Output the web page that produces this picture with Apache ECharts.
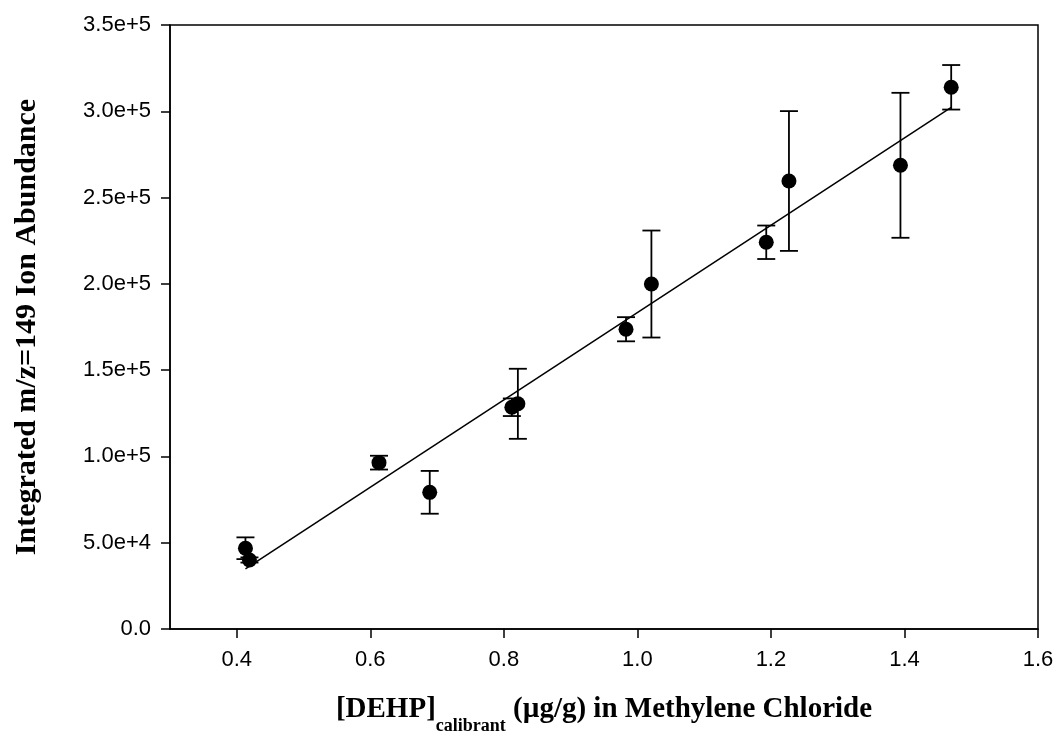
<!DOCTYPE html>
<html>
<head>
<meta charset="utf-8">
<title>DEHP calibration</title>
<script src="https://cdn.jsdelivr.net/npm/echarts@6/dist/echarts.min.js"></script>
<style>
  html, body { margin: 0; padding: 0; background: #ffffff; }
  #chart { width: 1057px; height: 734px; }
</style>
</head>
<body>
<div id="chart"></div>
<script>
// Calibrant concentration (µg/g) and integrated m/z=149 abundance, with error bar half-widths
const xValues = [0.413, 0.419, 0.613, 0.689, 0.812, 0.821, 0.983, 1.021, 1.193, 1.227, 1.394, 1.470];
const yValues = [46800, 40000, 96400, 79200, 128500, 130500, 173700, 199900, 224100, 259600, 268700, 313900];
const yErrors = [6300, 1500, 4000, 12400, 5100, 20300, 7000, 31000, 9700, 40500, 42000, 12900];

// Tick labels
const xTicks = [0.4, 0.6, 0.8, 1.0, 1.2, 1.4, 1.6];
const yTicks = [0, 50000, 100000, 150000, 200000, 250000, 300000, 350000];

// Least-squares fit drawn across the range of the calibrants
function linearFit(xs, ys) {
  const n = xs.length;
  const mx = xs.reduce((a, b) => a + b, 0) / n;
  const my = ys.reduce((a, b) => a + b, 0) / n;
  let sxy = 0, sxx = 0;
  for (let i = 0; i < n; i++) {
    sxy += (xs[i] - mx) * (ys[i] - my);
    sxx += (xs[i] - mx) * (xs[i] - mx);
  }
  const slope = sxy / sxx;
  return { slope: slope, intercept: my - slope * mx };
}
const fit = linearFit(xValues, yValues);
const xMin = Math.min.apply(null, xValues);
const xMax = Math.max.apply(null, xValues);
const fitLine = [[xMin, fit.intercept + fit.slope * xMin], [xMax, fit.intercept + fit.slope * xMax]];

const points = xValues.map((x, i) => [x, yValues[i]]);
const bars = xValues.map((x, i) => [x, yValues[i], yErrors[i]]);

function sci(v) {
  if (v === 0) return '0.0';
  const e = Math.floor(Math.log10(v) + 1e-9);
  const m = v / Math.pow(10, e);
  return m.toFixed(1) + 'e+' + e;
}

const tickFont = { fontFamily: 'Liberation Sans, Arial, sans-serif', fontSize: 22, color: '#000' };
const titleFont = 'Liberation Serif, Times New Roman, serif';

const chart = echarts.init(document.getElementById('chart'), null, { renderer: 'canvas' });
chart.setOption({
  animation: false,
  backgroundColor: '#ffffff',
  grid: {
    left: 170, right: 19, top: 25, bottom: 105,
    containLabel: false,
    outerBoundsMode: 'none',
    show: true, borderColor: '#000', borderWidth: 1.5, backgroundColor: 'transparent'
  },
  xAxis: {
    type: 'value',
    min: 0.3, max: 1.6,
    splitLine: { show: false },
    axisLine: { show: true, onZero: false, lineStyle: { color: '#000', width: 1.5 } },
    axisTick: { show: true, inside: false, length: 9, customValues: xTicks, lineStyle: { color: '#000', width: 1.5 } },
    axisLabel: Object.assign({ margin: 20, customValues: xTicks, formatter: v => v.toFixed(1) }, tickFont),
    name: '{a|[DEHP]}{s|calibrant}{a| (µg/g) in Methylene Chloride}',
    nameLocation: 'middle',
    nameGap: 66,
    nameTextStyle: {
      rich: {
        a: { fontFamily: titleFont, fontWeight: 'bold', fontSize: 29, color: '#000', lineHeight: 33, verticalAlign: 'top' },
        s: { fontFamily: titleFont, fontWeight: 'bold', fontSize: 18, color: '#000', lineHeight: 18, verticalAlign: 'top', padding: [22, 0, 0, 0] }
      }
    }
  },
  yAxis: {
    type: 'value',
    min: 0, max: 350000, interval: 50000,
    splitLine: { show: false },
    axisLine: { show: true, onZero: false, lineStyle: { color: '#000', width: 1.5 } },
    axisTick: { show: true, inside: false, length: 9, customValues: yTicks, lineStyle: { color: '#000', width: 1.5 } },
    axisLabel: Object.assign({ margin: 19, customValues: yTicks, formatter: sci }, tickFont),
    name: 'Integrated m/z=149 Ion Abundance',
    nameLocation: 'middle',
    nameGap: 128,
    nameRotate: 90,
    nameTextStyle: { fontFamily: titleFont, fontWeight: 'bold', fontSize: 30, color: '#000' }
  },
  series: [
    {
      type: 'line',
      data: fitLine,
      showSymbol: false,
      symbol: 'none',
      lineStyle: { color: '#000', width: 1.5 },
      z: 2
    },
    {
      type: 'custom',
      data: bars,
      renderItem: function (params, api) {
        const x = api.value(0), y = api.value(1), e = api.value(2);
        const top = api.coord([x, y + e]);
        const bot = api.coord([x, y - e]);
        const hw = 9;
        const style = { stroke: '#000', lineWidth: 1.8, fill: null };
        return {
          type: 'group',
          children: [
            { type: 'line', shape: { x1: top[0], y1: top[1], x2: bot[0], y2: bot[1] }, style: style },
            { type: 'line', shape: { x1: top[0] - hw, y1: top[1], x2: top[0] + hw, y2: top[1] }, style: style },
            { type: 'line', shape: { x1: bot[0] - hw, y1: bot[1], x2: bot[0] + hw, y2: bot[1] }, style: style }
          ]
        };
      },
      z: 3
    },
    {
      type: 'scatter',
      data: points,
      symbol: 'circle',
      symbolSize: 15,
      itemStyle: { color: '#000', opacity: 1 },
      z: 4
    }
  ]
});
</script>
</body>
</html>
